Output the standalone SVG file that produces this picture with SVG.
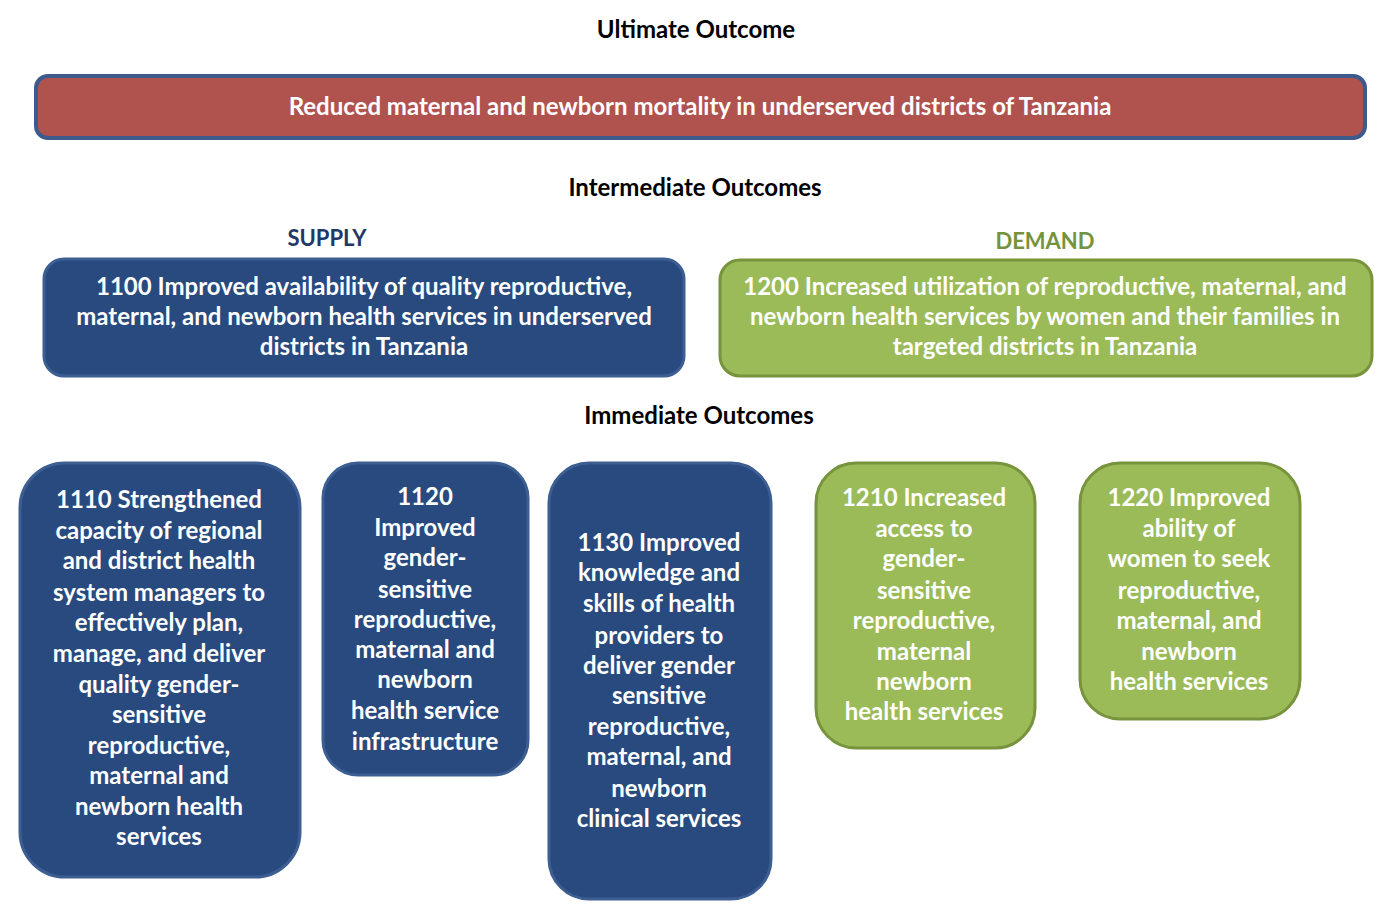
<svg xmlns="http://www.w3.org/2000/svg" width="1390" height="914" viewBox="0 0 1390 914">
  <style>
    text { font-family: Lato, "Open Sans", "Liberation Sans", sans-serif; font-weight: bold; text-anchor: middle; }
    .head { font-size: 24px; fill: #000; }
    .side { font-size: 22px; }
    .in { font-size: 24px; fill: #fff; }
    .blue { fill: #284a7e; stroke: #3d5e92; stroke-width: 3; }
    .green { fill: #9bbb59; stroke: #77933c; stroke-width: 3; }
    .red { fill: #b0534f; stroke: #3d5a8c; stroke-width: 4; }
  </style>

  <text class="head" x="696" y="38">Ultimate Outcome</text>
  <g id="ultimate">
    <rect class="red" x="36" y="76" width="1329" height="62" rx="12"/>
    <text class="in" x="700" y="115">Reduced maternal and newborn mortality in underserved districts of Tanzania</text>
  </g>

  <text class="head" x="695" y="196">Intermediate Outcomes</text>
  <text class="side" x="327" y="246" style="fill:#1f3864">SUPPLY</text>
  <text class="side" x="1045" y="249" style="fill:#76923c">DEMAND</text>

  <g id="n1100">
    <rect class="blue" x="44" y="259" width="640" height="117" rx="20"/>
    <text class="in" x="364" y="295">1100 Improved availability of quality reproductive,</text>
    <text class="in" x="364" y="325">maternal, and newborn health services in underserved</text>
    <text class="in" x="364" y="355">districts in Tanzania</text>
  </g>
  <g id="n1200">
    <rect class="green" x="720" y="260" width="652" height="116" rx="20"/>
    <text class="in" x="1045" y="295">1200 Increased utilization of reproductive, maternal, and</text>
    <text class="in" x="1045" y="325">newborn health services by women and their families in</text>
    <text class="in" x="1045" y="355">targeted districts in Tanzania</text>
  </g>

  <text class="head" x="699" y="424">Immediate Outcomes</text>

  <g id="n1110">
    <rect class="blue" x="20" y="463" width="280" height="414" rx="45"/>
    <text class="in" x="159" y="508">1110 Strengthened</text>
    <text class="in" x="159" y="539">capacity of regional</text>
    <text class="in" x="159" y="569">and district health</text>
    <text class="in" x="159" y="601">system managers to</text>
    <text class="in" x="159" y="631">effectively plan,</text>
    <text class="in" x="159" y="662">manage, and deliver</text>
    <text class="in" x="159" y="693">quality gender-</text>
    <text class="in" x="159" y="723">sensitive</text>
    <text class="in" x="159" y="754">reproductive,</text>
    <text class="in" x="159" y="784">maternal and</text>
    <text class="in" x="159" y="815">newborn health</text>
    <text class="in" x="159" y="845">services</text>
  </g>
  <g id="n1120">
    <rect class="blue" x="323" y="463" width="205" height="312" rx="35"/>
    <text class="in" x="425" y="505">1120</text>
    <text class="in" x="425" y="536">Improved</text>
    <text class="in" x="425" y="566">gender-</text>
    <text class="in" x="425" y="598">sensitive</text>
    <text class="in" x="425" y="628">reproductive,</text>
    <text class="in" x="425" y="658">maternal and</text>
    <text class="in" x="425" y="688">newborn</text>
    <text class="in" x="425" y="719">health service</text>
    <text class="in" x="425" y="750">infrastructure</text>
  </g>
  <g id="n1130">
    <rect class="blue" x="549" y="463" width="222" height="436" rx="40"/>
    <text class="in" x="659" y="551">1130 Improved</text>
    <text class="in" x="659" y="581">knowledge and</text>
    <text class="in" x="659" y="612">skills of health</text>
    <text class="in" x="659" y="644">providers to</text>
    <text class="in" x="659" y="674">deliver gender</text>
    <text class="in" x="659" y="704">sensitive</text>
    <text class="in" x="659" y="735">reproductive,</text>
    <text class="in" x="659" y="765">maternal, and</text>
    <text class="in" x="659" y="797">newborn</text>
    <text class="in" x="659" y="827">clinical services</text>
  </g>
  <g id="n1210">
    <rect class="green" x="816" y="463" width="219" height="285" rx="40"/>
    <text class="in" x="924" y="506">1210 Increased</text>
    <text class="in" x="924" y="537">access to</text>
    <text class="in" x="924" y="567">gender-</text>
    <text class="in" x="924" y="599">sensitive</text>
    <text class="in" x="924" y="629">reproductive,</text>
    <text class="in" x="924" y="660">maternal</text>
    <text class="in" x="924" y="690">newborn</text>
    <text class="in" x="924" y="720">health services</text>
  </g>
  <g id="n1220">
    <rect class="green" x="1080" y="463" width="220" height="256" rx="40"/>
    <text class="in" x="1189" y="506">1220 Improved</text>
    <text class="in" x="1189" y="537">ability of</text>
    <text class="in" x="1189" y="567">women to seek</text>
    <text class="in" x="1189" y="599">reproductive,</text>
    <text class="in" x="1189" y="629">maternal, and</text>
    <text class="in" x="1189" y="660">newborn</text>
    <text class="in" x="1189" y="690">health services</text>
  </g>

  <g id="connectors"/>
</svg>
